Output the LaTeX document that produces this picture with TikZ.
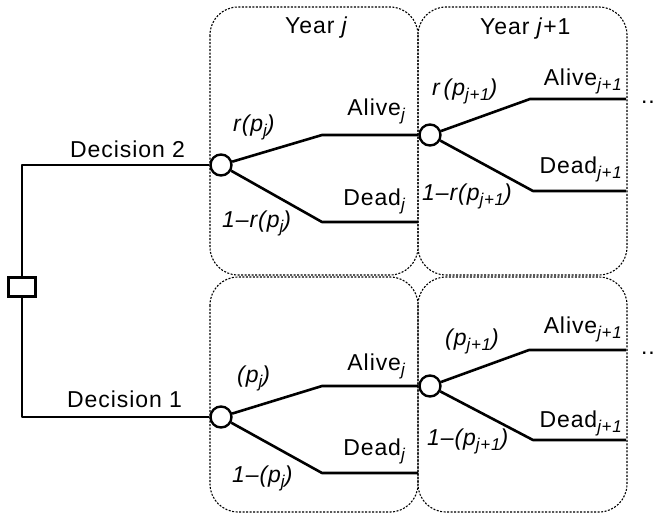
\documentclass[tikz,border=0pt]{standalone}
\usepackage{fontspec}
\setmainfont[LetterSpace=4]{Liberation Sans}
% italic subscript, a little larger and lower than \textsubscript
\newcommand\sub[1]{\raisebox{-5pt}{\fontsize{17}{20}\selectfont\itshape #1}}
\begin{document}
\begin{tikzpicture}[x=1pt, y=-1pt,
  font=\fontsize{23}{27}\selectfont,
  branch/.style={line width=2.6pt, line join=round},
  chance/.style={circle, draw, line width=2.4pt, minimum size=21pt, inner sep=0pt, fill=white},
  decbox/.style={rectangle, draw, line width=2.4pt, minimum width=27pt, minimum height=19pt, inner sep=0pt, fill=white},
  yearbox/.style={draw, line width=1.1pt, dash pattern=on 2pt off 1.5pt, rounded corners=28pt},
  lbl/.style={inner sep=0pt}]
\useasboundingbox (0,0) rectangle (656,515);

% yearly stages
\draw[yearbox] (210,7) rectangle (418,275);
\draw[yearbox] (418,7) rectangle (627,275);
\draw[yearbox] (210,277) rectangle (418,512);
\draw[yearbox] (418,277) rectangle (627,512);

% decision and chance nodes
\node[decbox] (dec) at (22,287) {};
\node[chance] (c1) at (221,165) {};
\node[chance] (c2) at (430,135) {};
\node[chance] (c3) at (221,417) {};
\node[chance] (c4) at (430,386) {};

% branch knees and ends
\coordinate (k1u) at (322,135);
\coordinate (k1d) at (322,222);
\coordinate (e1d) at (418,222);
\coordinate (k2u) at (530,99);
\coordinate (e2u) at (626,99);
\coordinate (k2d) at (533,191);
\coordinate (e2d) at (626,191);
\coordinate (k3u) at (322,386);
\coordinate (k3d) at (322,473);
\coordinate (e3d) at (418,473);
\coordinate (k4u) at (529,350);
\coordinate (e4u) at (626,350);
\coordinate (k4d) at (533,440);
\coordinate (e4d) at (626,440);

% branches
\draw[branch] (dec) |- (c1);
\draw[branch] (dec) |- (c3);
\draw[branch] (c1) -- (k1u) -- (c2);
\draw[branch] (c1) -- (k1d) -- (e1d);
\draw[branch] (c2) -- (k2u) -- (e2u);
\draw[branch] (c2) -- (k2d) -- (e2d);
\draw[branch] (c3) -- (k3u) -- (c4);
\draw[branch] (c3) -- (k3d) -- (e3d);
\draw[branch] (c4) -- (k4u) -- (e4u);
\draw[branch] (c4) -- (k4d) -- (e4d);

% stage titles
\node[lbl, anchor=base west] (yj) at (285,33) {Year \textit{j}};
\node[lbl, anchor=base west] (yj1) at (480,34) {Year \textit{j}+1};

% decisions
\node[lbl, anchor=base west] (d2) at (70,157) {Decision 2};
\node[lbl, anchor=base west] (d1) at (67,407) {Decision 1};

% probabilities, upper tree
\node[lbl, anchor=base west] (pu1) at (233,131) {\itshape r(p\sub{j})};
\node[lbl, anchor=base west] (qu1) at (222,227) {\itshape 1--r(p\sub{j})};
\node[lbl, anchor=base west] (pu2) at (432,95) {\itshape r\,(p\sub{j+1})};
\node[lbl, anchor=base west] (qu2) at (422,200) {\itshape 1--r(p\sub{j+1})};

% probabilities, lower tree
\node[lbl, anchor=base west] (pl1) at (237,382) {\itshape (p\sub{j})};
\node[lbl, anchor=base west] (ql1) at (232,482) {\itshape 1--(p\sub{j})};
\node[lbl, anchor=base west] (pl2) at (445,345) {\itshape (p\sub{j+1})};
\node[lbl, anchor=base west] (ql2) at (427,445) {\itshape 1--(p\sub{j+1})};

% outcomes, upper tree
\node[lbl, anchor=base east] (au1) at (405,115) {Alive\sub{j}};
\node[lbl, anchor=base east] (du1) at (405,205) {Dead\sub{j}};
\node[lbl, anchor=base east] (au2) at (622,85) {Alive\sub{j+1}};
\node[lbl, anchor=base east] (du2) at (622,173) {Dead\sub{j+1}};

% outcomes, lower tree
\node[lbl, anchor=base east] (al1) at (405,370) {Alive\sub{j}};
\node[lbl, anchor=base east] (dl1) at (405,455) {Dead\sub{j}};
\node[lbl, anchor=base east] (al2) at (622,333) {Alive\sub{j+1}};
\node[lbl, anchor=base east] (dl2) at (622,427) {Dead\sub{j+1}};

% continuation marks
\node[lbl, anchor=base west] (mu) at (641,103) {..};
\node[lbl, anchor=base west] (ml) at (641,354) {..};
\end{tikzpicture}
\end{document}
